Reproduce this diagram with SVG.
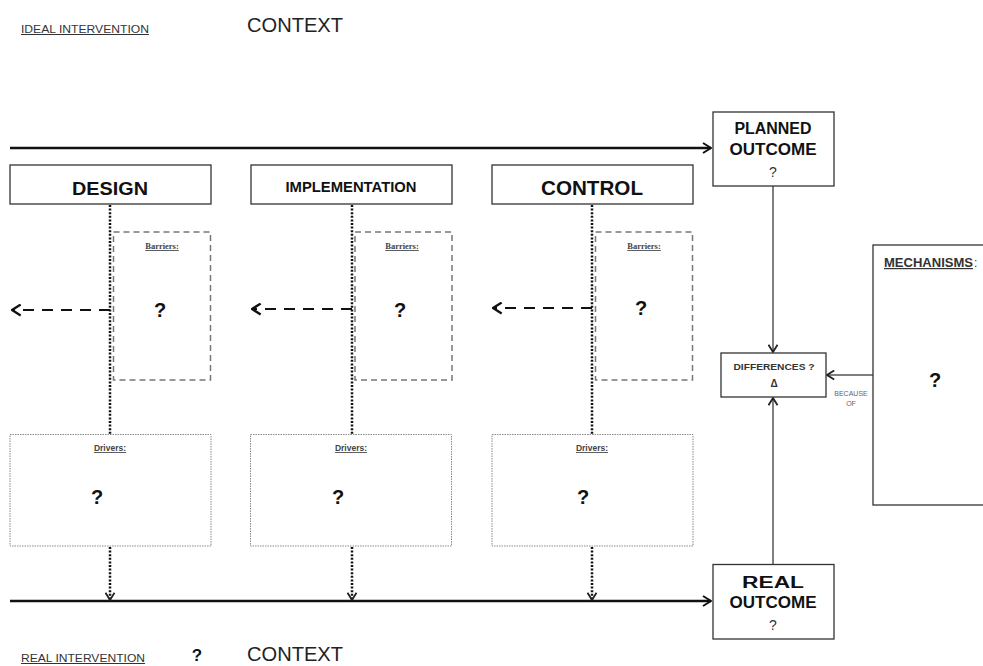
<svg xmlns="http://www.w3.org/2000/svg" width="983" height="666" viewBox="0 0 983 666">
<defs>
<style>
text{font-family:"Liberation Sans",Arial,sans-serif;fill:#111}
.box{fill:#fff;stroke:#333;stroke-width:1.3}
.bar{fill:none;stroke:#777;stroke-width:1.5;stroke-dasharray:6 4}
.drv{fill:none;stroke:#8a8a8a;stroke-width:1;stroke-dasharray:1.5 1}
.main{stroke:#111;stroke-width:2.5;fill:none}
.dot{stroke:#111;stroke-width:2.5;stroke-dasharray:2 1.6;fill:none}
.dash{stroke:#111;stroke-width:2;stroke-dasharray:11 8;fill:none}
.thin{stroke:#555;stroke-width:1.5;fill:none}
.lbl{font-size:10px;fill:#333;text-decoration:underline}
.ctx{font-size:20px;fill:#222}
.q{font-weight:bold;font-size:20px;text-anchor:middle}
.small{font-size:8.5px;font-weight:bold;text-decoration:underline;text-anchor:middle;fill:#444}
.ser{font-family:"Liberation Serif","Times New Roman",serif}
</style>
<marker id="chev" viewBox="0 0 10 12" refX="9" refY="6" markerWidth="10" markerHeight="12" markerUnits="userSpaceOnUse" orient="auto">
<path d="M1,1 L9,6 L1,11" fill="none" stroke="#111" stroke-width="2"/>
</marker>
<marker id="chevs" viewBox="0 0 10 12" refX="9" refY="6" markerWidth="9" markerHeight="11" markerUnits="userSpaceOnUse" orient="auto">
<path d="M1,1 L9,6 L1,11" fill="none" stroke="#222" stroke-width="2"/>
</marker>
<marker id="chevd" viewBox="0 0 10 12" refX="9" refY="6" markerWidth="11" markerHeight="13" markerUnits="userSpaceOnUse" orient="auto">
<path d="M1,1 L9,6 L1,11" fill="none" stroke="#111" stroke-width="2.2"/>
</marker>
</defs>
<rect width="983" height="666" fill="#fff"/>

<g id="labels">
<text x="21" y="33" class="lbl" textLength="128" lengthAdjust="spacingAndGlyphs">IDEAL INTERVENTION</text>
<text x="247" y="32" class="ctx" textLength="96" lengthAdjust="spacingAndGlyphs">CONTEXT</text>
<text x="21" y="662" class="lbl" textLength="124" lengthAdjust="spacingAndGlyphs">REAL INTERVENTION</text>
<text x="197" y="661" class="q" style="font-size:17px">?</text>
<text x="247" y="661" class="ctx" textLength="96" lengthAdjust="spacingAndGlyphs">CONTEXT</text>
</g>

<g id="connectors">
<line x1="10" y1="148" x2="711" y2="148" class="main" marker-end="url(#chev)"/>
<line x1="10" y1="601" x2="711" y2="601" class="main" marker-end="url(#chev)"/>
<line x1="110" y1="205" x2="110" y2="434" class="dot"/>
<line x1="352" y1="205" x2="352" y2="434" class="dot"/>
<line x1="592" y1="205" x2="592" y2="434" class="dot"/>
<line x1="110" y1="547" x2="110" y2="600" class="dot" marker-end="url(#chevs)"/>
<line x1="352" y1="547" x2="352" y2="600" class="dot" marker-end="url(#chevs)"/>
<line x1="592" y1="547" x2="592" y2="600" class="dot" marker-end="url(#chevs)"/>
<line x1="110" y1="310" x2="12" y2="310" class="dash" marker-end="url(#chevd)"/>
<line x1="352" y1="309" x2="252" y2="309" class="dash" marker-end="url(#chevd)"/>
<line x1="592" y1="308" x2="493" y2="308" class="dash" marker-end="url(#chevd)"/>
<line x1="773" y1="186" x2="773" y2="352" class="thin" marker-end="url(#chevs)"/>
<line x1="773" y1="564" x2="773" y2="398" class="thin" marker-end="url(#chevs)"/>
<line x1="873" y1="375" x2="827" y2="375" class="thin" marker-end="url(#chevs)"/>
<text x="851" y="396" style="font-size:7px;fill:#666" text-anchor="middle">BECAUSE</text>
<text x="851" y="406" style="font-size:7px;fill:#666" text-anchor="middle">OF</text>
</g>

<g id="design">
<rect x="10" y="165" width="201" height="39" class="box"/>
<text x="110" y="195" text-anchor="middle" style="font-size:19px;font-weight:bold" textLength="76" lengthAdjust="spacingAndGlyphs">DESIGN</text>
</g>
<g id="implementation">
<rect x="251" y="165" width="201" height="39" class="box"/>
<text x="351" y="192" text-anchor="middle" style="font-size:14px;font-weight:bold" textLength="131" lengthAdjust="spacingAndGlyphs">IMPLEMENTATION</text>
</g>
<g id="control">
<rect x="492" y="165" width="201" height="39" class="box"/>
<text x="592" y="195" text-anchor="middle" style="font-size:20px;font-weight:bold" textLength="102" lengthAdjust="spacingAndGlyphs">CONTROL</text>
</g>

<g id="barriers-design">
<rect x="113.5" y="232" width="97" height="148" class="bar"/>
<text x="162" y="249" class="small ser">Barriers:</text>
<text x="160" y="317" class="q">?</text>
</g>
<g id="barriers-implementation">
<rect x="355" y="232" width="97" height="148" class="bar"/>
<text x="402" y="249" class="small ser">Barriers:</text>
<text x="400" y="317" class="q">?</text>
</g>
<g id="barriers-control">
<rect x="595.5" y="232" width="97" height="148" class="bar"/>
<text x="644" y="249" class="small ser">Barriers:</text>
<text x="641" y="315" class="q">?</text>
</g>

<g id="drivers-design">
<rect x="10" y="434.5" width="201" height="111.5" class="drv"/>
<text x="110" y="451" class="small">Drivers:</text>
<text x="97" y="504" class="q">?</text>
</g>
<g id="drivers-implementation">
<rect x="250.5" y="434.5" width="201" height="111.5" class="drv"/>
<text x="351" y="451" class="small">Drivers:</text>
<text x="338" y="504" class="q">?</text>
</g>
<g id="drivers-control">
<rect x="492" y="434.5" width="201" height="111.5" class="drv"/>
<text x="592" y="451" class="small">Drivers:</text>
<text x="583" y="504" class="q">?</text>
</g>

<g id="planned-outcome">
<rect x="713" y="112" width="121" height="74" class="box"/>
<text x="773" y="134" text-anchor="middle" style="font-size:16px;font-weight:bold" textLength="77" lengthAdjust="spacingAndGlyphs">PLANNED</text>
<text x="773" y="155" text-anchor="middle" style="font-size:16px;font-weight:bold" textLength="87" lengthAdjust="spacingAndGlyphs">OUTCOME</text>
<text x="773" y="177" text-anchor="middle" style="font-size:14px;fill:#333">?</text>
</g>
<g id="real-outcome">
<rect x="713" y="564.5" width="121" height="74.5" class="box"/>
<text x="773" y="588" text-anchor="middle" style="font-size:16px;font-weight:bold" textLength="62" lengthAdjust="spacingAndGlyphs">REAL</text>
<text x="773" y="608" text-anchor="middle" style="font-size:16px;font-weight:bold" textLength="87" lengthAdjust="spacingAndGlyphs">OUTCOME</text>
<text x="773" y="630" text-anchor="middle" style="font-size:14px;fill:#333">?</text>
</g>
<g id="differences">
<rect x="721" y="353" width="105" height="44" class="box"/>
<text x="774" y="370" text-anchor="middle" style="font-size:9px;font-weight:bold;fill:#333" textLength="81" lengthAdjust="spacingAndGlyphs">DIFFERENCES ?</text>
<text x="774" y="387" text-anchor="middle" style="font-size:10px;font-weight:bold;fill:#333">Δ</text>
</g>
<g id="mechanisms">
<rect x="873" y="245" width="120" height="260" class="box"/>
<text x="884" y="267" style="font-size:12px;font-weight:bold;text-decoration:underline;fill:#333" textLength="89" lengthAdjust="spacingAndGlyphs">MECHANISMS</text>
<text x="974" y="267" style="font-size:12px;fill:#333">:</text>
<text x="935" y="387" class="q">?</text>
</g>
</svg>
